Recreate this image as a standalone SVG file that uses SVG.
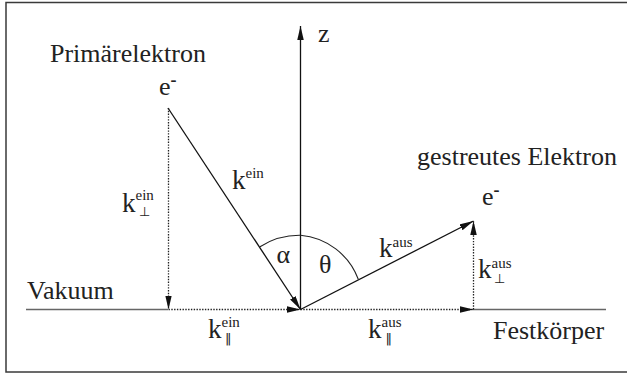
<svg xmlns="http://www.w3.org/2000/svg" width="627" height="374" viewBox="0 0 627 374">
<style>
text{font-family:"Liberation Serif","Times New Roman",serif;fill:#222;}
.t{font-size:26px;}
.k{font-size:27px;}
.sup{font-size:15px;}
.sym{font-family:"DejaVu Sans",sans-serif;font-size:13px;fill:#222;}
.solid{stroke:#111;stroke-width:1.3;fill:none;}
.dot{stroke:#222;stroke-width:1.3;stroke-dasharray:1.4 1.4;fill:none;}
.surf{stroke:#666;stroke-width:1.5;fill:none;}
.arc{stroke:#222;stroke-width:1.1;fill:none;}
</style>
<defs>
<marker id="ah" markerUnits="userSpaceOnUse" markerWidth="15" markerHeight="7" refX="14" refY="3.25" orient="auto">
<path d="M0,0 L14,3.25 L0,6.5 z" fill="#111"/>
</marker>
</defs>
<rect x="6" y="2.5" width="700" height="369.5" fill="none" stroke="#3a3a3a" stroke-width="1.5"/>
<g id="surface">
<line class="surf" x1="26" y1="309.5" x2="168" y2="309.5"/>
<line class="surf" x1="473" y1="309.5" x2="606" y2="309.5"/>
<text class="t" x="27" y="299">Vakuum</text>
<text class="t" x="493" y="339">Festkörper</text>
</g>
<g id="z-axis">
<line class="solid" x1="300.5" y1="309.5" x2="300.5" y2="26" marker-end="url(#ah)"/>
<text class="t" x="318" y="41.5">z</text>
</g>
<g id="primary">
<text class="t" x="50" y="62">Primärelektron</text>
<text class="t" x="159" y="95">e<tspan font-size="18" font-weight="bold" dy="-9">-</tspan></text>
</g>
<g id="scattered">
<text class="t" x="417" y="165">gestreutes Elektron</text>
<text class="t" x="482" y="205">e<tspan font-size="18" font-weight="bold" dy="-9">-</tspan></text>
</g>
<g id="connectors">
<line class="solid" x1="168" y1="108" x2="300.5" y2="309.5" marker-end="url(#ah)"/>
<line class="solid" x1="300.5" y1="309.5" x2="473.5" y2="221" marker-end="url(#ah)"/>
<line class="dot" x1="168.5" y1="108" x2="168.5" y2="309.5" marker-end="url(#ah)"/>
<line class="dot" x1="168.5" y1="309.5" x2="300.5" y2="309.5" marker-end="url(#ah)"/>
<line class="dot" x1="300.5" y1="309.5" x2="473.5" y2="309.5" marker-end="url(#ah)"/>
<line class="dot" x1="473.5" y1="309.5" x2="473.5" y2="221" marker-end="url(#ah)"/>
<path class="arc" d="M260,246.7 A74,74 0 0 1 300.5,235.3"/>
<path class="arc" d="M300.5,235.3 A68,68 0 0 1 358.3,279.3"/>
</g>
<g id="labels">
<text class="k" x="232" y="188.5">k<tspan class="sup" dy="-10.5">ein</tspan></text>
<text class="k" x="122" y="211.5">k<tspan class="sup" dy="-11.5">ein</tspan></text>
<text class="sym" x="139" y="216">⊥</text>
<text class="k" x="208" y="338">k<tspan class="sup" dy="-11">ein</tspan></text>
<text class="sym" x="225" y="343" font-size="12">‖</text>
<text class="k" x="379" y="257">k<tspan class="sup" dy="-10.5">aus</tspan></text>
<text class="k" x="478" y="278">k<tspan class="sup" dy="-10">aus</tspan></text>
<text class="sym" x="494" y="283">⊥</text>
<text class="k" x="368" y="337.5">k<tspan class="sup" dy="-10.5">aus</tspan></text>
<text class="sym" x="385.5" y="343" font-size="12">‖</text>
<text class="t" x="276.5" y="263">α</text>
<text class="t" x="319" y="273">θ</text>
</g>
</svg>
